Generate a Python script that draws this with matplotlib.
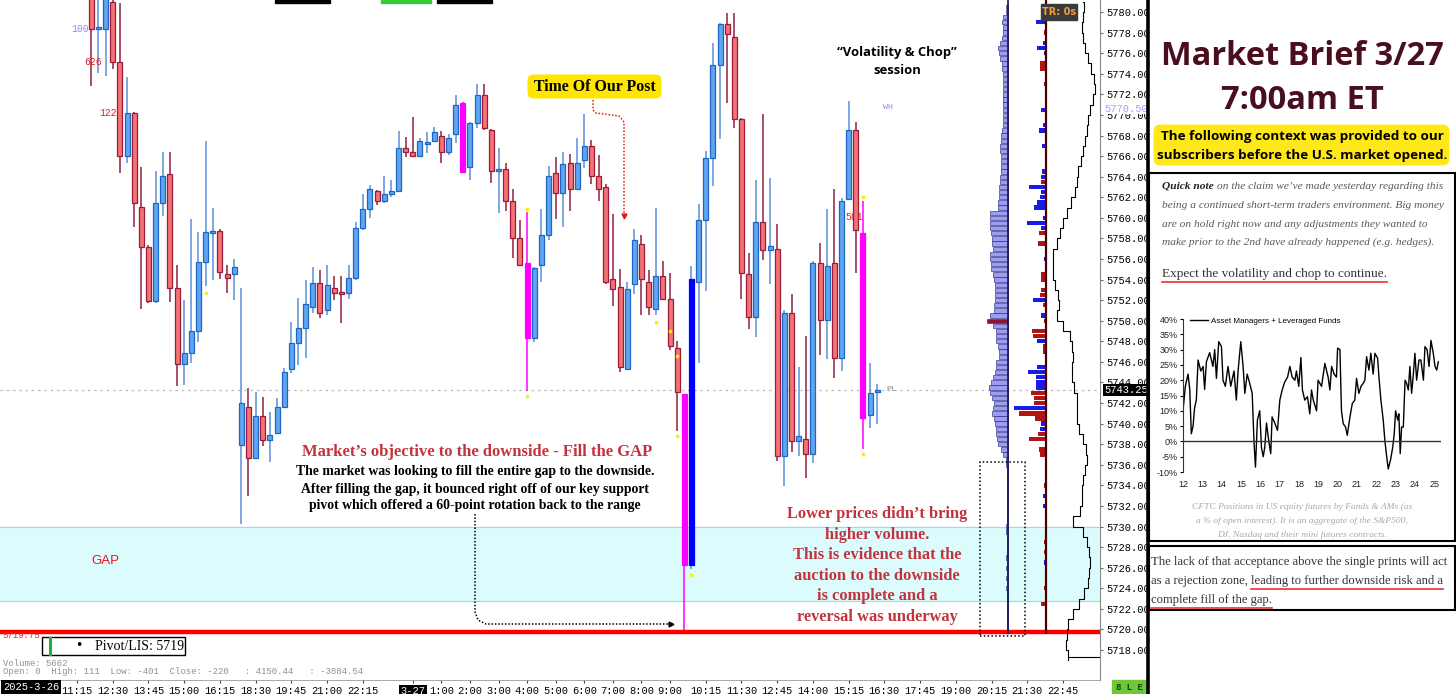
import numpy as np
import matplotlib
matplotlib.use("Agg")
import matplotlib.pyplot as plt
from matplotlib.patches import Rectangle, FancyBboxPatch

W, H = 1456, 694

# ── candles: 15-min bars, bar index 0 = 3-26 11:15 ───────────────────────────
bar_idx = np.arange(2, 113)
opens = [5782.0, 5778.35, 5778.35, 5781.0, 5775.15, 5766.0, 5770.2, 5761.1, 5757.2, 5751.95,
         5761.4, 5764.3, 5753.2, 5745.8, 5746.9, 5749.0, 5755.7, 5758.5, 5758.7, 5754.55,
         5754.5, 5737.96, 5741.6, 5736.7, 5740.7, 5738.45, 5739.1, 5741.6, 5745.3, 5747.86,
         5749.3, 5751.3, 5753.7, 5751.0, 5753.2, 5752.8, 5752.7, 5754.2, 5759.0, 5760.9,
         5762.6, 5761.6, 5762.3, 5762.6, 5766.8, 5766.4, 5766.0, 5767.2, 5767.5, 5768.0,
         5766.4, 5768.1, 5771.2, 5764.9, 5769.2, 5771.9, 5768.5, 5764.55, 5764.75, 5761.6,
         5758.0, 5755.6, 5748.3, 5755.4, 5758.3, 5764.4, 5762.4, 5765.3, 5762.8, 5765.6,
         5767.0, 5764.1, 5763.0, 5754.1, 5753.3, 5745.3, 5753.6, 5757.5, 5753.8, 5751.1,
         5754.3, 5752.1, 5747.35, 5742.9, 5726.3, 5753.8, 5759.8, 5765.8, 5774.9, 5778.8,
         5777.6, 5769.6, 5754.5, 5750.4, 5759.6, 5756.9, 5757.0, 5736.9, 5750.8, 5738.3,
         5738.5, 5737.05, 5755.6, 5750.07, 5755.6, 5746.4, 5761.8, 5768.5, 5758.5, 5740.8,
         5743.1]
highs = [5783.0, 5782.0, 5782.5, 5781.6, 5780.9, 5773.7, 5770.3, 5764.9, 5757.4, 5764.6,
         5766.4, 5766.4, 5755.4, 5752.0, 5759.9, 5758.6, 5767.5, 5761.0, 5758.9, 5755.4,
         5756.0, 5753.2, 5743.5, 5743.1, 5742.6, 5741.1, 5742.5, 5745.4, 5749.9, 5752.2,
         5754.0, 5755.2, 5754.9, 5755.4, 5754.3, 5754.3, 5755.4, 5759.6, 5762.3, 5763.2,
         5762.7, 5764.1, 5763.7, 5768.4, 5767.9, 5769.8, 5767.8, 5768.3, 5768.8, 5768.4,
         5768.1, 5771.9, 5771.3, 5769.3, 5773.0, 5773.0, 5768.6, 5766.8, 5765.3, 5762.8,
         5759.8, 5760.6, 5755.2, 5760.9, 5765.0, 5765.9, 5766.4, 5766.2, 5767.76, 5770.1,
         5767.6, 5766.1, 5763.3, 5760.4, 5755.0, 5753.8, 5758.9, 5758.3, 5754.9, 5761.0,
         5755.8, 5754.6, 5748.0, 5742.9, 5755.3, 5761.3, 5766.5, 5777.0, 5778.9, 5779.9,
         5779.9, 5769.7, 5756.6, 5763.7, 5770.1, 5763.9, 5759.4, 5751.0, 5752.6, 5745.5,
         5748.5, 5755.8, 5757.6, 5760.9, 5762.8, 5761.9, 5771.4, 5769.3, 5761.6, 5745.9,
         5743.85]
lows = [5772.8, 5774.1, 5773.8, 5774.5, 5764.4, 5765.3, 5759.1, 5751.1, 5751.75, 5751.75,
        5760.2, 5751.85, 5743.7, 5743.8, 5745.9, 5747.9, 5753.4, 5754.0, 5754.1, 5752.7,
        5752.0, 5730.25, 5733.0, 5736.6, 5737.8, 5736.3, 5739.0, 5741.5, 5744.95, 5745.7,
        5746.4, 5750.8, 5750.3, 5750.6, 5752.0, 5749.8, 5752.1, 5754.0, 5758.8, 5760.0,
        5761.2, 5761.4, 5762.0, 5762.5, 5765.9, 5765.9, 5765.9, 5766.3, 5767.4, 5765.3,
        5766.1, 5767.3, 5764.4, 5763.7, 5768.7, 5768.5, 5763.4, 5760.5, 5760.7, 5756.1,
        5755.3, 5743.2, 5747.9, 5753.8, 5757.8, 5759.9, 5759.1, 5760.7, 5762.7, 5764.8,
        5763.3, 5761.6, 5753.6, 5751.4, 5745.0, 5745.2, 5752.6, 5750.6, 5750.6, 5750.6,
        5752.0, 5747.2, 5739.3, 5719.75, 5725.9, 5745.9, 5752.9, 5763.1, 5767.7, 5771.2,
        5768.7, 5752.1, 5749.2, 5748.4, 5755.9, 5753.6, 5736.4, 5733.9, 5737.2, 5736.9,
        5734.7, 5736.2, 5746.7, 5746.3, 5744.4, 5745.1, 5761.7, 5754.6, 5737.5, 5739.6,
        5739.96]
closes = [5778.35, 5778.5, 5781.6, 5775.15, 5766.0, 5770.2, 5761.4, 5757.2, 5751.95, 5761.4,
          5764.1, 5753.2, 5745.8, 5746.9, 5749.0, 5755.7, 5758.6, 5758.7, 5754.7, 5754.2,
          5755.2, 5742.0, 5736.7, 5740.7, 5738.45, 5738.9, 5741.6, 5745.05, 5747.86, 5749.3,
          5751.6, 5753.7, 5750.8, 5753.5, 5752.7, 5752.6, 5754.2, 5759.0, 5760.9, 5762.8,
          5761.6, 5762.3, 5762.6, 5766.8, 5766.4, 5766.0, 5767.5, 5767.4, 5768.3, 5766.4,
          5767.8, 5770.97, 5764.5, 5769.2, 5771.9, 5768.7, 5764.55, 5764.75, 5761.6, 5758.0,
          5755.4, 5748.3, 5755.1, 5758.3, 5764.1, 5762.4, 5765.2, 5762.8, 5765.3, 5767.0,
          5764.1, 5762.8, 5753.8, 5753.1, 5745.5, 5753.1, 5757.8, 5754.1, 5751.3, 5754.3,
          5752.1, 5747.5, 5743.1, 5726.3, 5754.05, 5759.8, 5765.8, 5774.9, 5778.8, 5777.9,
          5769.6, 5754.6, 5750.4, 5759.6, 5756.9, 5757.3, 5736.9, 5750.8, 5738.3, 5738.8,
          5737.05, 5755.6, 5750.07, 5755.3, 5746.4, 5761.6, 5768.5, 5758.8, 5740.5, 5742.96,
          5743.25]
# bars painted by the volume study
climax_bars = [54, 63, 85, 110]
thrust_bars = [86]
# small yellow dots
dot_idx   = [18, 63, 63, 81, 83, 84, 84, 85, 86, 110, 110]
dot_price = [5752.7, 5760.9, 5742.7, 5749.9, 5749.0, 5746.6, 5738.8, 5719.75, 5725.3, 5762.0, 5737.05]

# x-axis labels
tick_idx = [0, 5, 10, 15, 20, 25, 30, 35, 40, 47, 51, 55, 59, 63, 67, 71, 75, 79, 83,
            88, 93, 98, 103, 108, 113, 118, 123, 128, 133, 138]
tick_lbl = ["11:15", "12:30", "13:45", "15:00", "16:15", "18:30", "19:45", "21:00", "22:15",
            "3-27", "1:00", "2:00", "3:00", "4:00", "5:00", "6:00", "7:00", "8:00", "9:00",
            "10:15", "11:30", "12:45", "14:00", "15:15", "16:30", "17:45", "19:00", "20:15",
            "21:30", "22:45"]
price_ticks = np.arange(5718, 5781, 2)

# levels
gap_lo, gap_hi = 5722.75, 5730.0
pivot = 5719.75
last_price = 5743.25

# ── volume profile (0.5 pt rows, 5720.0 → 5780.5) ───────────────────────────
vp_price = np.arange(5720.0, 5781.0, 0.5)
vp_vol = [1, 1, 1, 1, 1, 1, 1, 1, 2, 1,      # 5720.0-5724.5
          2, 1, 2, 1, 2, 1, 1, 1, 1, 2,      # 5725.0-5729.5
          2, 1, 1, 1, 1, 1, 1, 1, 1, 1,      # 5730.0-5734.5
          1, 1, 2, 2, 5, 7, 10, 11, 12, 12,  # 5735.0-5739.5
          13, 14, 16, 15, 14, 16, 18, 19, 17, 15,  # 5740.0-5744.5
          13, 12, 12, 9, 9, 10, 12, 12, 12, 15,    # 5745.0-5749.5
          21, 18, 14, 14, 13, 13, 13, 13, 14, 15,  # 5750.0-5754.5
          17, 17, 18, 18, 15, 16, 16, 17, 18, 18,  # 5755.0-5759.5
          18, 18, 10, 10, 9, 9, 9, 8, 8, 7,        # 5760.0-5764.5
          7, 7, 7, 8, 8, 7, 7, 6, 5, 5,            # 5765.0-5769.5
          5, 5, 5, 5, 5, 5, 5, 5, 5, 6,            # 5770.0-5774.5
          6, 8, 9, 10, 8, 6, 5, 5, 6, 5,           # 5775.0-5779.5
          2, 2]                                    # 5780.0-5780.5
poc = 5750.0

# delta at price (+ buyers / - sellers)
delta_price = [5779.5, 5779, 5778, 5777, 5776.5, 5776, 5775, 5774.5, 5773, 5772,
               5770.5, 5769, 5768.5, 5767, 5764.5, 5764, 5763.5, 5763, 5762.5, 5762,
               5761.5, 5761, 5760, 5759.5, 5759, 5758.5, 5757.5, 5756, 5754.5, 5754,
               5753, 5752.5, 5752, 5751.5, 5750.5, 5750, 5749, 5748.5, 5748, 5747.5,
               5747, 5745.5, 5745, 5744.5, 5744, 5743.5, 5743, 5742.5, 5742, 5741.5,
               5741, 5740.5, 5740, 5739.5, 5739, 5738.5, 5737.5, 5737, 5734, 5733,
               5732, 5728.5, 5727.5, 5726.5, 5724, 5722.5, 5721.5]
delta_val = [5, 10, -2, 3, 9, 2, -6, -6, -2, -1,
             5, 3, 7, 4, 4, 5, -5, 17, 5, 6,
             9, 12, 3, 19, 5, -7, -8, 2, -5, -5,
             -5, -6, 13, -3, 5, -2, -14, -13, 9, -3,
             -3, 9, 18, 10, 10, 10, -15, -12, -12, 32,
             -27, -11, 5, 6, -8, -17, -7, -6, -2, 3,
             3, -2, -2, 2, -2, -5, -1]

# session profile outline
tpo_price = np.arange(5781, 5716, -1)
tpo_w = [108, 109, 108, 107, 108, 110, 113, 116, 119, 120,
         118, 115, 113, 112, 110, 108, 106, 103, 102, 100,
         96, 92, 88, 85, 82, 78, 78, 78, 80, 83,
         84, 82, 88, 95, 97, 98, 97, 97, 99, 102,
         102, 102, 104, 108, 111, 112, 110, 108, 107, 107,
         105, 98, 108, 112, 114, 115, 114, 113, 109, 104,
         98, 93, 92, 91, 93]

# ── CFTC inset series (% of open interest) ───────────────────────────────────
cftc_year = [2012.00, 2012.12, 2012.26, 2012.35, 2012.43, 2012.52, 2012.60, 2012.69, 2012.78, 2012.92,
             2013.04, 2013.12, 2013.21, 2013.38, 2013.55, 2013.64, 2013.73, 2013.85, 2013.99, 2014.07,
             2014.19, 2014.33, 2014.47, 2014.64, 2014.76, 2014.85, 2014.99, 2015.11, 2015.20, 2015.32,
             2015.45, 2015.58, 2015.68, 2015.75, 2015.85, 2015.97, 2016.06, 2016.15, 2016.23, 2016.32,
             2016.44, 2016.54, 2016.61, 2016.75, 2016.89, 2017.01, 2017.13, 2017.27, 2017.41, 2017.53,
             2017.65, 2017.79, 2017.87, 2017.99, 2018.10, 2018.18, 2018.30, 2018.44, 2018.56, 2018.65,
             2018.74, 2018.91, 2018.99, 2019.17, 2019.34, 2019.51, 2019.60, 2019.69, 2019.82, 2019.94,
             2020.00, 2020.12, 2020.20, 2020.29, 2020.41, 2020.50, 2020.64, 2020.76, 2020.89, 2020.98,
             2021.10, 2021.21, 2021.33, 2021.41, 2021.50, 2021.62, 2021.72, 2021.84, 2021.93, 2022.07,
             2022.14, 2022.24, 2022.36, 2022.45, 2022.54, 2022.62, 2022.74, 2022.85, 2022.93, 2023.00,
             2023.11, 2023.17, 2023.24, 2023.31, 2023.40, 2023.49, 2023.57, 2023.66, 2023.74, 2023.83,
             2023.92, 2024.00, 2024.09, 2024.21, 2024.31, 2024.44, 2024.52, 2024.63, 2024.73, 2024.83,
             2024.95, 2025.04, 2025.13, 2025.21]
cftc_pct = [10, 18, 22, 17, 2.5, 5, 11, 13.5, 26.6, 23,
            24.5, 17, 26, 29, 24.5, 30, 20.6, 32.6, 31, 20,
            18, 24.5, 18, 23, 13.5, 23, 32.6, 24.5, 15.7, 22,
            19, 15.7, -1, -8.4, 7, 10, -2, -5, -2, 6,
            0, -4, 8, 6, 3.6, 13.5, 16.8, 19.5, 21, 24.5,
            21, 20, 23, 18, 27.4, 16.8, 13.5, 14.6, 9, 16.8,
            13.5, 10, 20, 18, 25.5, 21, 16.8, 24.5, 22, 21,
            30.5, 30, 10, 5.8, 4.7, 2, 8, 12.4, 13.5, 20.6,
            15.7, 18, 19, 20, 27.7, 23.3, 28.8, 22, 28.8, 27.2,
            21, 13.5, 7, 0, -5, -9, -6, -2, 2.5, 10,
            7, 9, -4, 4.7, 4.7, 20, 19, 16.8, 24.5, 15.7,
            22, 28.8, 20, 26.6, 26.6, 20, 31, 30, 24.5, 33,
            28.8, 24.5, 23.3, 26]

# ── colours / fonts ──────────────────────────────────────────────────────────
BULL_FACE, BULL_EDGE, BULL_WICK = "#5ea6f2", "#1f66c4", "#5b8fd8"
BEAR_FACE, BEAR_EDGE, BEAR_WICK = "#f27474", "#9e1a3a", "#8e2046"
MAGENTA, THRUST = "#ff00ff", "#0000ff"
NOTE_RED = "#c2343d"
MONO = "Liberation Mono"
SERIF = "Liberation Serif"
SANS = "Open Sans"

fig = plt.figure(figsize=(W / 100, H / 100), dpi=100)
fig.patch.set_facecolor("white")

def px_rect(x0, y0, w, h):
    return [x0 / W, 1 - (y0 + h) / H, w / W, h / H]

# main price pane: bar i sits at pixel 77 + 7.145*i, 10.29 px per point
PX0, PXB = 77.0, 7.145
ax = fig.add_axes(px_rect(0, 0, 1100, 680))
ax.set_xlim((0 - PX0) / PXB, (1100 - PX0) / PXB)
ax.set_ylim(5781.17 - 680 / 10.29, 5781.17)

o, h, l, c = map(np.array, (opens, highs, lows, closes))
up = c >= o
face = np.where(up, BULL_FACE, BEAR_FACE).astype(object)
edge = np.where(up, BULL_EDGE, BEAR_EDGE).astype(object)
wick = np.where(up, BULL_WICK, BEAR_WICK).astype(object)
for i, b in enumerate(bar_idx):
    if b in climax_bars:
        face[i] = edge[i] = wick[i] = MAGENTA
    if b in thrust_bars:
        face[i] = edge[i] = THRUST
ax.vlines(bar_idx, l, h, colors=list(wick), lw=1.1, zorder=3)
ax.bar(bar_idx, np.maximum(np.abs(c - o), 0.15), bottom=np.minimum(o, c), width=0.7,
       color=list(face), edgecolor=list(edge), lw=0.9, zorder=4)
ax.scatter(dot_idx, dot_price, s=7, color="#f2f200", zorder=5, lw=0)

ax.axhspan(gap_lo, gap_hi, color="#dcfbfd", zorder=0)
ax.axhline(gap_lo, color="#86e6ee", lw=0.8, zorder=0.5)
ax.axhline(gap_hi, color="#86e6ee", lw=0.8, zorder=0.5)
ax.axhline(last_price, color="#bdbdbd", lw=0.9, ls=(0, (2, 3)), zorder=1)
ax.axhline(pivot, color="#ff0000", lw=3.2, zorder=6)

# small study labels on the bars
ax.text(1.7, 5778.35, "100", color="#8c8cf0", fontsize=7, family=MONO, ha="right", va="center")
ax.text(3.5, 5775.15, "626", color="#e02020", fontsize=7, family=MONO, ha="right", va="center")
ax.text(6.4, 5770.2, "1225", color="#e02020", fontsize=7, family=MONO, ha="right", va="center")
ax.text(110.0, 5760.1, "581", color="#e02020", fontsize=7, family=MONO, ha="right", va="center")
ax.text(112.8, 5770.7, "WH", color="#8c8cf0", fontsize=6, family=MONO, ha="left", va="center")
ax.text(113.3, last_price + 0.1, "PL", color="#888888", fontsize=6, family=MONO, ha="left", va="center")

ax.set_xticks(tick_idx)
ax.set_xticklabels(tick_lbl, family=MONO, fontsize=7.5)
for t in ax.get_xticklabels():
    if "-" in t.get_text():
        t.set_color("white")
        t.set_bbox(dict(facecolor="black", edgecolor="none", pad=1.2))
ax.tick_params(axis="x", length=2.5, pad=2, color="#444444")
ax.yaxis.tick_right()
ax.set_yticks(price_ticks)
ax.set_yticklabels([f"{v:.2f}" for v in price_ticks], family=MONO, fontsize=7.5)
ax.tick_params(axis="y", length=2.5, pad=2, color="#666666")
for s in ("top", "left"):
    ax.spines[s].set_visible(False)
ax.spines["right"].set_color("#8a8a8a")
ax.spines["bottom"].set_color("#9a9a9a")
ax.spines["bottom"].set_linewidth(0.6)

# ── profile columns ──────────────────────────────────────────────────────────
axp = fig.add_axes(px_rect(975, 0, 125, 680))
axp.set_xlim(0, 125)
axp.set_ylim(ax.get_ylim())
axp.axis("off")
vp_cols = ["#8b1538" if p == poc else "#9c9cf2" for p in vp_price]
axp.barh(vp_price, -np.array(vp_vol), left=33, height=0.42, color=vp_cols,
         edgecolor="#1a1a6e", lw=0.4)
axp.vlines(33, 5719.6, 5781.2, color="#141450", lw=1.2)
dv = np.array(delta_val)
axp.barh(delta_price, -np.abs(dv), left=71, height=0.42,
         color=np.where(dv > 0, "#1a1ae6", "#b01414"), lw=0)
axp.vlines(71, 5719.6, 5781.2, color="#4a0000", lw=1.6)
axp.plot(tpo_w, tpo_price, drawstyle="steps-post", color="black", lw=0.8)
axp.plot([tpo_w[-1], 125], [5717.3, 5717.3], color="black", lw=0.8)
axp.add_patch(Rectangle((5, 5719.4), 45, 16.9, fill=False, ls=(0, (1, 1.5)), lw=1.1, ec="black"))

# ── overlay in pixel space for annotations and the side panel ────────────────
ov = fig.add_axes([0, 0, 1, 1])
ov.set_xlim(0, W)
ov.set_ylim(H, 0)
ov.axis("off")

# cut-off tags along the top edge
ov.add_patch(Rectangle((275, 0), 55, 2.5, color="black"))
ov.add_patch(Rectangle((381, 0), 50, 2.5, color="#33cc33"))
ov.add_patch(Rectangle((437, 0), 55, 2.5, color="black"))

ov.add_patch(Rectangle((1041, 4), 36, 16, color="#3a3a3a"))
ov.text(1059, 12, "TR: 0s", color="#f2a03c", fontsize=7, weight="bold", ha="center", va="center")

ov.text(1104, 390, f"{last_price:.2f}", color="white", fontsize=7.5, family=MONO, va="center",
        bbox=dict(facecolor="black", edgecolor="none", pad=1))
ov.text(1104, 109, "5770.50", color="#a0a0ff", fontsize=7.5, family=MONO, va="center",
        bbox=dict(facecolor="white", edgecolor="none", pad=0.3))
ov.add_patch(Rectangle((1112, 680), 34, 14, color="#6cc838"))
ov.text(1129, 687, "8 L E", color="#1a3a10", fontsize=6.5, family=MONO, weight="bold",
        ha="center", va="center")

ov.text(2, 636, f"{pivot:.2f}", color="#e82020", fontsize=6.5, family=MONO, va="center")
ov.add_patch(Rectangle((42, 637), 143, 18, fill=False, ec="black", lw=1))
ov.plot([49.5, 49.5], [638, 654], color="#22aa44", lw=2.2)
ov.text(79, 646, "•", fontsize=9, ha="center", va="center")
ov.text(95, 646.5, "Pivot/LIS: 5719", fontsize=10, family=SERIF, va="center")
ov.text(3, 663, "Volume: 5662", color="#909090", fontsize=6.5, family=MONO, va="center")
ov.text(3, 672, "Open: 0  High: 111  Low: -401  Close: -220   : 4150.44   : -3884.54",
        color="#909090", fontsize=6.5, family=MONO, va="center")
ov.text(3, 687, "2025-3-26", color="white", fontsize=7.5, family=MONO, va="center",
        bbox=dict(facecolor="black", edgecolor="none", pad=1.2))

ov.text(105, 561, "GAP", color="#e8141e", fontsize=9.5, family="Liberation Sans", ha="center", va="center")

ov.add_patch(FancyBboxPatch((529, 76), 131, 21, boxstyle="round,pad=1.5,rounding_size=6",
                            fc="#ffe600", ec="none"))
ov.text(594.5, 87, "Time Of Our Post", fontsize=11.4, family=SERIF, weight="bold",
        ha="center", va="center")
ov.plot([593, 593, 596, 619, 624, 624], [100, 110, 113, 116, 122, 214], color="#e01818",
        lw=1.1, ls=(0, (1, 1.2)))
ov.plot([624], [216], marker="v", ms=3.5, color="#e01818")

ov.text(897, 52, "\u201cVolatility & Chop\u201d", fontsize=9.4, family=SANS, weight="bold",
        ha="center", va="center")
ov.text(897, 70, "session", fontsize=9.4, family=SANS, weight="bold", ha="center", va="center")

ov.text(477, 452, "Market\u2019s objective to the downside - Fill the GAP", color=NOTE_RED,
        fontsize=12, family=SERIF, weight="bold", ha="center", va="center")
for y, s in zip([471, 489, 505],
                ["The market was looking to fill the entire gap to the downside.",
                 "After filling the gap, it bounced right off of our key support",
                 "pivot which offered a 60-point rotation back to the range"]):
    ov.text(475, y, s, fontsize=9.9, family=SERIF, weight="bold", ha="center", va="center")
ov.plot([475, 475, 478, 486, 668], [514, 612, 620, 624, 624], color="black", lw=1.1,
        ls=(0, (1, 1.2)))
ov.plot([671], [624], marker=">", ms=3.5, color="black")

for y, s in zip([514, 535, 555, 576, 596, 617],
                ["Lower prices didn\u2019t bring", "higher volume.", "This is evidence that the",
                 "auction to the downside", "is complete and a", "reversal was underway"]):
    ov.text(877, y, s, color=NOTE_RED, fontsize=11.8, family=SERIF, weight="bold",
            ha="center", va="center")

# ── side panel ───────────────────────────────────────────────────────────────
ov.add_patch(Rectangle((1147, 0), 309, H, color="white", zorder=5))
ov.plot([1147.5, 1147.5], [0, H], color="black", lw=2.6, zorder=6)

ov.text(1302, 56, "Market Brief 3/27", color="#4a0f1e", fontsize=23.5, family=SANS,
        weight="bold", ha="center", va="center", zorder=7)
ov.text(1302, 100, "7:00am ET", color="#4a0f1e", fontsize=23.5, family=SANS,
        weight="bold", ha="center", va="center", zorder=7)
ov.add_patch(FancyBboxPatch((1155, 126), 293, 38, boxstyle="round,pad=1.5,rounding_size=7",
                            fc="#ffe81a", ec="none", zorder=6))
ov.text(1302, 136, "The following context was provided to our", fontsize=9.7, family=SANS,
        weight="bold", ha="center", va="center", zorder=7)
ov.text(1302, 155, "subscribers before the U.S. market opened.", fontsize=9.7, family=SANS,
        weight="bold", ha="center", va="center", zorder=7)

ov.add_patch(Rectangle((1148.5, 173), 306, 368, fill=False, ec="black", lw=1.5, zorder=7))
ov.add_patch(Rectangle((1148.5, 546), 306, 64, fill=False, ec="black", lw=1.5, zorder=7))

renderer = fig.canvas.get_renderer()

def run_text(x, y, s, **kw):
    t = ov.text(x, y, s, va="center", zorder=8, **kw)
    bb = t.get_window_extent(renderer)
    return t, bb.x0, bb.x1

BODY = 8.2
_, _, x1 = run_text(1162, 186, "Quick note", color="#222222", fontsize=BODY, family=SERIF,
                    style="italic", weight="bold")
run_text(x1 + 3, 186, "on the claim we\u2019ve made yesterday regarding this", color="#5a5a5a",
         fontsize=BODY, family=SERIF, style="italic")
for y, s in zip([205, 224, 242],
                ["being a continued short-term traders environment. Big money",
                 "are on hold right now and any adjustments they wanted to",
                 "make prior to the 2nd have already happened (e.g. hedges)."]):
    run_text(1162, y, s, color="#5a5a5a", fontsize=BODY, family=SERIF, style="italic")
_, x0, x1 = run_text(1162, 274, "Expect the volatility and chop to continue.", color="#333333",
                     fontsize=9.5, family=SERIF)
ov.plot([x0, x1], [282, 282], color="#e83030", lw=1.2, zorder=8)

for y, s in zip([507, 521, 535],
                ["CFTC Positions in US equity futures by Funds & AMs (as",
                 "a % of open interest). It is an aggregate of the S&P500,",
                 "DJ, Nasdaq and their mini futures contracts."]):
    ov.text(1302, y, s, color="#a8a8a8", fontsize=6.8, family=SERIF, style="italic",
            ha="center", va="center", zorder=8)

NOTE = 9.1
run_text(1151, 562, "The lack of that acceptance above the single prints will act",
         color="#333333", fontsize=NOTE, family=SERIF)
_, _, x1 = run_text(1151, 581, "as a rejection zone,", color="#333333", fontsize=NOTE, family=SERIF)
_, x0, x1 = run_text(x1 + 3, 581, "leading to further downside risk and a", color="#333333",
                     fontsize=NOTE, family=SERIF)
ov.plot([x0, x1], [589, 589], color="#e83030", lw=1.2, zorder=8)
_, x0, x1 = run_text(1151, 600, "complete fill of the gap.", color="#333333", fontsize=NOTE,
                     family=SERIF)
ov.plot([x0, x1], [608, 608], color="#e83030", lw=1.2, zorder=8)

# ── CFTC inset ───────────────────────────────────────────────────────────────
axc = fig.add_axes(px_rect(1183, 319, 258, 153), zorder=10)
axc.set_facecolor("none")
axc.plot(cftc_year, cftc_pct, color="black", lw=1.0, label="Asset Managers + Leveraged Funds")
axc.axhline(0, color="#333333", lw=1.0)
axc.set_xlim(2012, 2025.35)
axc.set_ylim(-10, 40)
axc.set_yticks(np.arange(-10, 41, 5))
axc.set_yticklabels([f"{v}%" for v in range(-10, 41, 5)], fontsize=6.5, family="Liberation Sans",
                    color="#222222")
axc.set_xticks(np.arange(2012, 2026))
axc.set_xticklabels([str(y % 100) for y in range(2012, 2026)], fontsize=6.5,
                    family="Liberation Sans", color="#222222")
axc.tick_params(axis="x", length=0, pad=6)
axc.tick_params(axis="y", length=2, pad=2)
for s in ("top", "right", "bottom"):
    axc.spines[s].set_visible(False)
axc.spines["left"].set_color("#333333")
axc.legend(loc="upper left", bbox_to_anchor=(0.0, 1.06), frameon=False,
           handlelength=2.2, handletextpad=0.4,
           prop={"family": "Liberation Sans", "size": 5.8})

fig.savefig("out.png", dpi=100)
